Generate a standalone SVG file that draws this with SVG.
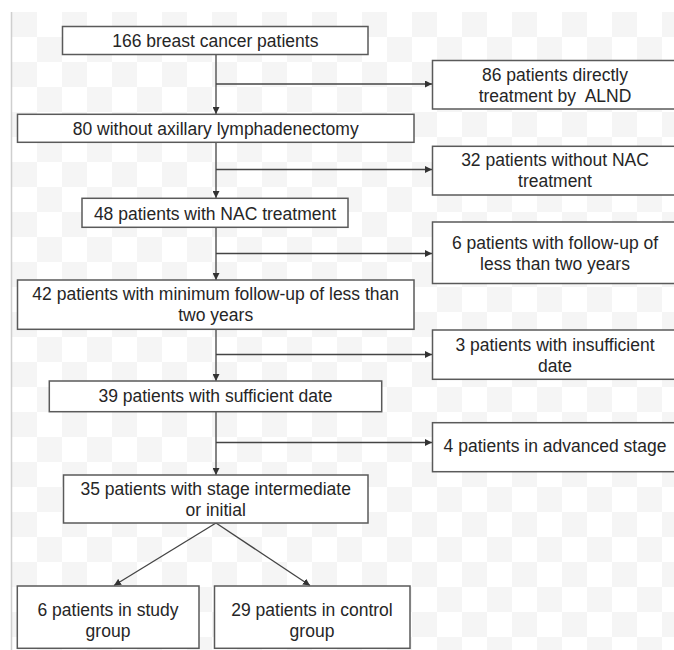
<svg xmlns="http://www.w3.org/2000/svg" width="674" height="650" viewBox="0 0 674 650">
<style>
.box{fill:#ffffff;stroke:#5a5a5a;stroke-width:1.5}
.t{font-family:"Liberation Sans",Arial,sans-serif;font-size:17.5px;fill:#262626;text-anchor:middle}
.ln{fill:none;stroke:#444;stroke-width:1.3}
</style>
<defs>
<pattern id="chk" x="12" y="12" width="50" height="50" patternUnits="userSpaceOnUse">
<rect x="0" y="0" width="25" height="25" fill="#f5f5f5"/>
<rect x="25" y="25" width="25" height="25" fill="#f5f5f5"/>
</pattern>
<marker id="ah" viewBox="0 0 10 10" refX="10" refY="5" markerWidth="7" markerHeight="7" markerUnits="userSpaceOnUse" orient="auto">
<path d="M0,0 L10,5 L0,10 z" fill="#333"/>
</marker>
</defs>
<rect x="0" y="0" width="674" height="650" fill="#ffffff"/>
<rect x="12" y="12" width="662" height="638" fill="url(#chk)"/>
<line x1="11.5" y1="12" x2="11.5" y2="650" stroke="#cfcfcf" stroke-width="1.5"/>

<g id="connectors">
<line class="ln" x1="216" y1="54.5" x2="216" y2="114" marker-end="url(#ah)"/>
<line class="ln" x1="216" y1="84" x2="432" y2="84" marker-end="url(#ah)"/>
<line class="ln" x1="216" y1="142.5" x2="216" y2="198" marker-end="url(#ah)"/>
<line class="ln" x1="216" y1="169.5" x2="432" y2="169.5" marker-end="url(#ah)"/>
<line class="ln" x1="216" y1="227.5" x2="216" y2="280" marker-end="url(#ah)"/>
<line class="ln" x1="216" y1="253.5" x2="432" y2="253.5" marker-end="url(#ah)"/>
<line class="ln" x1="216" y1="329.5" x2="216" y2="381" marker-end="url(#ah)"/>
<line class="ln" x1="216" y1="354.5" x2="432" y2="354.5" marker-end="url(#ah)"/>
<line class="ln" x1="216" y1="411.5" x2="216" y2="475" marker-end="url(#ah)"/>
<line class="ln" x1="216" y1="442.5" x2="432" y2="442.5" marker-end="url(#ah)"/>
<line class="ln" x1="216" y1="523" x2="114" y2="585.5" marker-end="url(#ah)"/>
<line class="ln" x1="216" y1="523" x2="310" y2="585.5" marker-end="url(#ah)"/>
</g>

<g id="n1"><rect class="box" x="62.5" y="26.5" width="305.5" height="28"/>
<text class="t" x="215.3" y="46.5">166 breast cancer patients</text></g>

<g id="r1"><rect class="box" x="432.5" y="60.5" width="246" height="48.5"/>
<text class="t" x="555" y="80.7">86 patients directly</text>
<text class="t" x="555" y="101.7">treatment by&#160; ALND</text></g>

<g id="n2"><rect class="box" x="17.5" y="114.3" width="396.5" height="28"/>
<text class="t" x="215.7" y="135.3">80 without axillary lymphadenectomy</text></g>

<g id="r2"><rect class="box" x="432.5" y="146.3" width="246" height="48.7"/>
<text class="t" x="555" y="166">32 patients without NAC</text>
<text class="t" x="555" y="187">treatment</text></g>

<g id="n3"><rect class="box" x="82" y="198.3" width="266" height="29"/>
<text class="t" x="215" y="219.5">48 patients with NAC treatment</text></g>

<g id="r3"><rect class="box" x="432.5" y="222" width="246" height="61.5"/>
<text class="t" x="555" y="248.5">6 patients with follow-up of</text>
<text class="t" x="555" y="269.5">less than two years</text></g>

<g id="n4"><rect class="box" x="17.5" y="280" width="396.5" height="49.3"/>
<text class="t" x="215.7" y="299.5">42 patients with minimum follow-up of less than</text>
<text class="t" x="215.7" y="320.5">two years</text></g>

<g id="r4"><rect class="box" x="432.5" y="330" width="246" height="49.3"/>
<text class="t" x="555" y="350.7">3 patients with insufficient</text>
<text class="t" x="555" y="371.7">date</text></g>

<g id="n5"><rect class="box" x="49.3" y="381" width="332.4" height="30.7"/>
<text class="t" x="215.5" y="402">39 patients with sufficient date</text></g>

<g id="r5"><rect class="box" x="432.5" y="422.7" width="246" height="49"/>
<text class="t" x="555" y="451.7">4 patients in advanced stage</text></g>

<g id="n6"><rect class="box" x="63.5" y="475" width="304.5" height="48"/>
<text class="t" x="215.7" y="495">35 patients with stage intermediate</text>
<text class="t" x="215.7" y="516">or initial</text></g>

<g id="n7"><rect class="box" x="17.3" y="586" width="181.7" height="62.3"/>
<text class="t" x="108" y="616">6 patients in study</text>
<text class="t" x="108" y="637">group</text></g>

<g id="n8"><rect class="box" x="214.5" y="586" width="195.5" height="62.3"/>
<text class="t" x="312" y="616">29 patients in control</text>
<text class="t" x="312" y="637">group</text></g>
</svg>
